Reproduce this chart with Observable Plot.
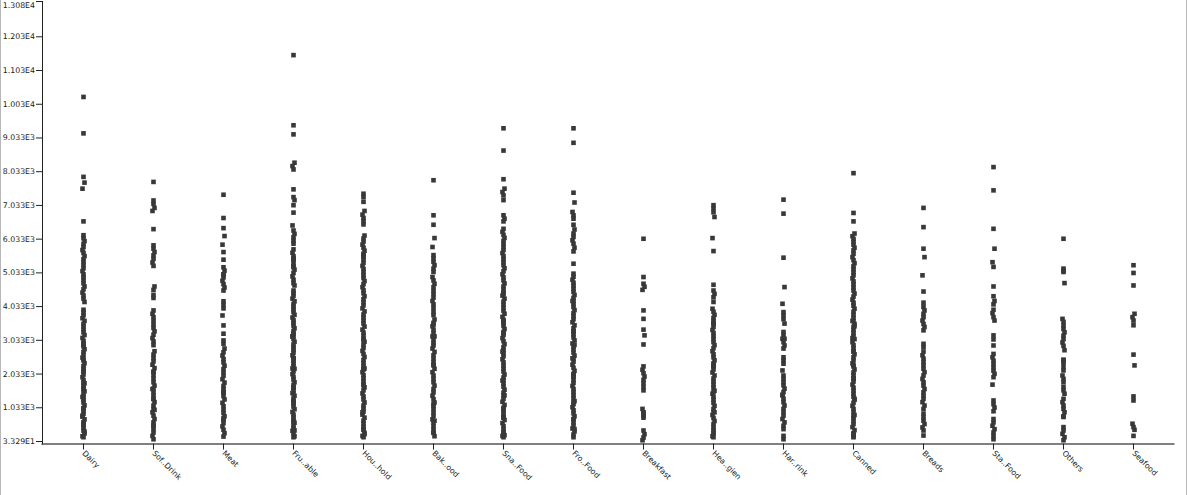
<!DOCTYPE html>
<html><head><meta charset="utf-8">
<script src="https://cdn.jsdelivr.net/npm/d3@7"></script>
<script src="https://cdn.jsdelivr.net/npm/@observablehq/plot@0.6"></script>
<style>
body{margin:0;background:#fff;}
#wrap{position:relative;width:1188px;height:495px;overflow:hidden;background:#fff}
#wrap::before{content:"";position:absolute;left:0;top:0;bottom:0;width:1px;background:#b8b8b8}
#wrap::after{content:"";position:absolute;right:1px;top:0;bottom:0;width:1px;background:#b8b8b8}
</style></head><body><div id="wrap"></div>
<script>
const categories = ["Dairy","Soft Drinks","Meat","Fruits and Vegetables","Household","Baking Goods","Snack Foods","Frozen Foods","Breakfast","Health and Hygiene","Hard Drinks","Canned","Breads","Starchy Foods","Others","Seafood"];
const tickLabels = ["Dairy","Sof..Drink","Meat","Fru..able","Hou..hold","Bak..ood","Sna..Food","Fro..Food","Breakfast","Hea..gien","Har..rink","Canned","Breads","Sta..Food","Others","Seafood"];
const yTicks = [33.29,1033.29,2033.29,3033.29,4033.29,5033.29,6033.29,7033.29,8033.29,9033.29,10033.29,11033.29,12033.29];
const yMin = 33.29;
const yMax = 13080;

const dairy = [10250,9170,7880,7710,7530,6560,6150,6060,5975,5890,5800,5710,5625,5530,5440,5350,5265,5170,5085,4990,4905,4810,4725,4630,4545,4450,4360,4270,4170,3940,3860,3775,3690,3610,3520,3440,3355,3270,3190,3105,3020,2940,2855,2770,2690,2605,2520,2440,2355,2270,2190,2105,2020,1940,1855,1770,1690,1605,1520,1440,1355,1270,1190,1105,1020,940,855,770,690,605,520,440,355,270,190,160,2480,2130,1760,1350,1020,800,560,330,2900,1570];
const softDrinks = [7730,7180,7080,6960,6870,6330,5850,5750,5650,5550,5450,5340,5240,4630,4530,4380,4290,3920,3820,3720,3610,3500,3400,3300,3200,3100,3000,2890,2710,2610,2510,2410,2310,2210,2100,2000,1900,1790,1690,1590,1490,1400,1300,1200,1100,1000,900,800,700,600,500,400,300,200,100,2100,1600,1290,970,500];
const meat = [7350,6660,6360,6125,5870,5650,5425,5200,5100,4990,4900,4800,4700,4600,4510,4190,4090,3980,3770,3475,3230,3030,2930,2790,2680,2580,2480,2380,2280,2180,2080,1980,1880,1780,1680,1580,1480,1380,1280,1180,1080,980,880,780,680,580,480,380,280,180,4990,1500,720];
const fruitsVeg = [11490,9410,9140,8300,8200,8100,7510,7280,7190,7040,6820,6440,6290,6190,6090,5990,5900,5730,5630,5530,5430,5330,5230,5130,5030,4930,4830,4730,4660,4510,4430,4350,4270,4190,4110,4030,3950,3870,3790,3710,3630,3550,3470,3390,3310,3230,3150,3070,2990,2910,2830,2750,2670,2590,2510,2430,2350,2270,2190,2110,2030,1950,1870,1790,1710,1630,1550,1470,1390,1310,1230,1150,1070,990,910,830,750,670,590,510,430,350,270,190,160,5460,5200,3180,3150,1640,1460,1200,610,360,2500,2200];
const household = [7380,7280,7140,6870,6760,6660,6570,6470,6140,6050,5960,5870,5780,5690,5600,5510,5420,5330,5240,5150,5060,4970,4880,4790,4700,4610,4520,4430,4340,4250,4160,4070,3980,3890,3800,3710,3620,3530,3440,3350,3260,3170,3080,2990,2900,2810,2720,2630,2540,2450,2360,2270,2180,2090,2000,1910,1820,1730,1640,1550,1460,1370,1280,1190,1100,1010,920,830,740,650,560,470,380,290,200,160,5550,3030,2200,2180,1700,900,400,250];
const bakingGoods = [7780,6740,6460,6065,5800,5560,5460,5360,5260,5160,5060,4910,4810,4710,4610,4500,4400,4300,4200,4100,4000,3880,3780,3650,3550,3450,3350,3250,3150,3050,2950,2880,2790,2690,2590,2490,2390,2290,2190,2090,1990,1890,1790,1690,1590,1490,1390,1290,1190,1090,990,890,790,690,590,490,390,290,190,3500,3150,2310,1150,650,300];
const snackFoods = [9320,8660,7810,7530,7430,7330,7190,6740,6640,6560,6340,6250,6160,6070,5980,5890,5800,5710,5620,5530,5440,5350,5260,5170,5080,4990,4900,4810,4720,4630,4540,4450,4360,4270,4180,4090,4000,3910,3820,3730,3640,3550,3460,3370,3280,3190,3100,3010,2920,2830,2740,2650,2560,2470,2380,2290,2200,2110,2020,1930,1840,1750,1660,1570,1480,1390,1300,1210,1120,1030,940,850,760,670,580,490,400,310,220,160,3250,2700,1850,1400,1000,760,740,300,200,4400,3600];
const frozenFoods = [9320,8890,7410,7120,6840,6740,6640,6460,6320,6200,6100,6000,5900,5780,5670,5305,5010,4920,4830,4740,4650,4560,4470,4380,4290,4200,4110,4020,3930,3840,3750,3660,3570,3480,3390,3300,3210,3120,3030,2940,2850,2760,2670,2580,2490,2400,2310,2220,2130,2040,1950,1860,1770,1680,1590,1500,1410,1320,1230,1140,1050,960,870,780,690,600,510,420,330,240,160,4200,3300,2900,2500,2000,1200,700,400];
const breakfast = [6045,4910,4710,4620,4530,3920,3670,3350,3180,2910,2260,2160,2060,1960,1860,1760,1650,1550,1000,900,800,740,360,250,150,70,860];
const healthHygiene = [7040,6940,6830,6690,6065,5680,4680,4510,4410,4310,4170,3970,3880,3790,3700,3610,3520,3430,3340,3250,3160,3070,2980,2890,2800,2710,2620,2530,2440,2350,2260,2170,2080,1990,1900,1810,1720,1630,1540,1450,1360,1270,1180,1090,1000,910,820,730,640,550,460,370,280,190,160,3550,2300,1500,900,300];
const hardDrinks = [7205,6790,5484,4612,4117,3870,3770,3660,3530,3280,3180,3080,2980,2880,2790,2530,2440,2340,2140,1990,1890,1790,1700,1600,1500,1400,1300,1200,1100,1000,900,800,700,600,500,400,200,100,3080,1420];
const canned = [7990,6810,6560,6200,6120,6040,5960,5870,5780,5700,5600,5500,5410,5320,5230,5140,5050,4960,4870,4780,4690,4600,4510,4420,4330,4240,4150,4060,3970,3880,3790,3700,3610,3520,3430,3340,3250,3160,3070,2980,2890,2800,2710,2620,2530,2440,2350,2260,2170,2080,1990,1900,1810,1720,1630,1540,1450,1360,1270,1180,1090,1000,910,820,730,640,550,460,370,280,190,160,3600,3450,3100,2700,2300,1900,1300,800,250];
const breads = [6960,6390,5750,5500,4960,4480,4150,4020,3920,3820,3720,3620,3520,3430,3330,2930,2830,2700,2590,2490,2390,2290,2190,2090,1990,1890,1790,1690,1590,1490,1390,1300,1200,1100,1000,860,750,650,550,450,360,210];
const starchyFoods = [8170,7480,6340,5750,5350,5210,4630,4340,4200,4100,3940,3840,3720,3620,3180,3060,2880,2630,2530,2430,2330,2230,2130,2040,1940,1720,1250,1140,1040,930,700,600,500,400,300,200,100];
const others = [6045,5160,5060,4730,3670,3580,3470,3370,3270,3170,3070,2970,2870,2740,2460,2370,2240,2140,1990,1890,1790,1650,1550,1450,1300,1200,1100,1000,900,760,460,360,260,160,70,2440,5100,780];
const seafood = [5260,5030,4660,3820,3720,3620,3480,2610,2290,1370,1250,560,460,380,200];

const series = [dairy,softDrinks,meat,fruitsVeg,household,bakingGoods,snackFoods,frozenFoods,breakfast,healthHygiene,hardDrinks,canned,breads,starchyFoods,others,seafood];
const rows = categories.flatMap((c, k) => series[k].map((v, j) => ({category: c, value: v, j})));
const labelOf = new Map(categories.map((c, i) => [c, tickLabels[i]]));
const fmt = v => { const [m, e] = v.toExponential(3).split("e"); return m + "E" + (+e); };

// small horizontal jitter groups (style only)
const group = d => d.j % 7 === 4 ? 0 : d.j % 5 === 3 ? 2 : 1;
const jitter = [-1, 0, 1];
const plot = Plot.plot({
  width: 1188, height: 495,
  marginLeft: 42, marginRight: 15, marginTop: 1, marginBottom: 51.5,
  style: {fontFamily: "'DejaVu Sans', sans-serif", fontSize: "7.8px", color: "#222", background: "transparent", overflow: "visible"},
  x: {type: "point", domain: categories, padding: 0.57, label: null},
  y: {domain: [yMin, yMax], insetBottom: 2.5, label: null},
  marks: [
    ...jitter.map((dx, m) => Plot.dot(rows, {filter: d => group(d) === m, x: "category", y: "value", symbol: "square", r: 2.6, fill: "#383838", stroke: "none", dx})),
    Plot.frame({anchor: "bottom", stroke: "#808080", strokeWidth: 2}),
    Plot.frame({anchor: "left", stroke: "#222", strokeWidth: 1}),
    Plot.axisY({ticks: [...yTicks, yMax], tickFormat: v => v === yMax ? "" : fmt(v), tickSize: 6, tickPadding: 1.5, stroke: "#222", label: null}),
    Plot.axisY({ticks: [yMax], tickFormat: fmt, tickSize: 0, tickPadding: 7.5, dy: 3.5, label: null}),
    Plot.axisX({tickFormat: d => labelOf.get(d), tickRotate: 45, tickSize: 6, tickPadding: 2, stroke: "#222", label: null})
  ]
});
document.getElementById("wrap").appendChild(plot);
</script></body></html>
